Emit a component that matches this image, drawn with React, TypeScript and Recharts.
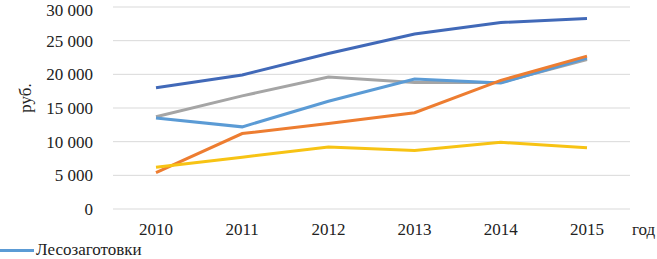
import React from 'react';
import { LineChart, Line, XAxis, YAxis, CartesianGrid } from 'recharts';

const years = ['2010', '2011', '2012', '2013', '2014', '2015'];
const darkBlue = [18000, 19900, 23100, 26000, 27700, 28300];
const gray = [13700, 16800, 19600, 18800, 18800, 22200];
const lightBlue = [13500, 12200, 16000, 19300, 18700, 22400];
const orange = [5400, 11200, 12700, 14300, 19100, 22700];
const yellow = [6200, 7700, 9200, 8700, 9900, 9100];
const yTicks = [0, 5000, 10000, 15000, 20000, 25000, 30000];

const data = years.map((year, i) => ({
  year,
  darkBlue: darkBlue[i],
  gray: gray[i],
  lightBlue: lightBlue[i],
  orange: orange[i],
  yellow: yellow[i],
}));

const font = 'Liberation Serif, DejaVu Serif, serif';
const fmt = (v: number) => String(v).replace(/\B(?=(\d{3})+(?!\d))/g, ' ');

const App: React.FC = () => (
  <div style={{ position: 'absolute', left: 0, top: 0, width: 657, height: 259, overflow: 'hidden', fontFamily: font }}>
    <LineChart width={657} height={259} data={data} margin={{ top: 7, right: 27, left: 0, bottom: 10 }} style={{ fontFamily: font }}>
      <CartesianGrid vertical={false} stroke="#d9d9d9" />
      <XAxis
        dataKey="year"
        axisLine={false}
        tickLine={false}
        tickSize={0}
        tickMargin={14}
        height={40}
        padding={{ left: 43, right: 43 }}
        tick={{ fontSize: 17, fill: '#222', fontFamily: font }}
        label={{ value: 'год', position: 'right', offset: 2, fontSize: 17, fill: '#222', fontFamily: font }}
      />
      <YAxis
        width={113}
        domain={[0, 30000]}
        ticks={yTicks}
        tickFormatter={fmt}
        axisLine={false}
        tickLine={false}
        tickSize={0}
        tickMargin={20}
        tick={{ fontSize: 17, fill: '#222', fontFamily: font }}
        label={{
          content: () => (
            <text x={25} y={98} transform="rotate(-90 25 98)" textAnchor="middle" dominantBaseline="central" fontSize={17} fill="#222" fontFamily={font}>
              руб.
            </text>
          ),
        }}
      />
      <Line dataKey="darkBlue" name="Ряд 1" stroke="#4169B8" strokeWidth={3} dot={false} isAnimationActive={false} />
      <Line dataKey="gray" name="Ряд 2" stroke="#A5A5A5" strokeWidth={3} dot={false} isAnimationActive={false} />
      <Line dataKey="lightBlue" name="Лесозаготовки" stroke="#5B9BD5" strokeWidth={3} dot={false} isAnimationActive={false} />
      <Line dataKey="orange" name="Ряд 4" stroke="#ED7D31" strokeWidth={3} dot={false} isAnimationActive={false} />
      <Line dataKey="yellow" name="Ряд 5" stroke="#F7C314" strokeWidth={3} dot={false} isAnimationActive={false} />
    </LineChart>
    <div style={{ position: 'absolute', left: 0, top: 240, display: 'flex', alignItems: 'center', fontSize: 17, color: '#222' }}>
      <span style={{ display: 'inline-block', width: 34, height: 3, background: '#5B9BD5' }} />
      <span style={{ marginLeft: 2 }}>Лесозаготовки</span>
    </div>
  </div>
);

export default App;
